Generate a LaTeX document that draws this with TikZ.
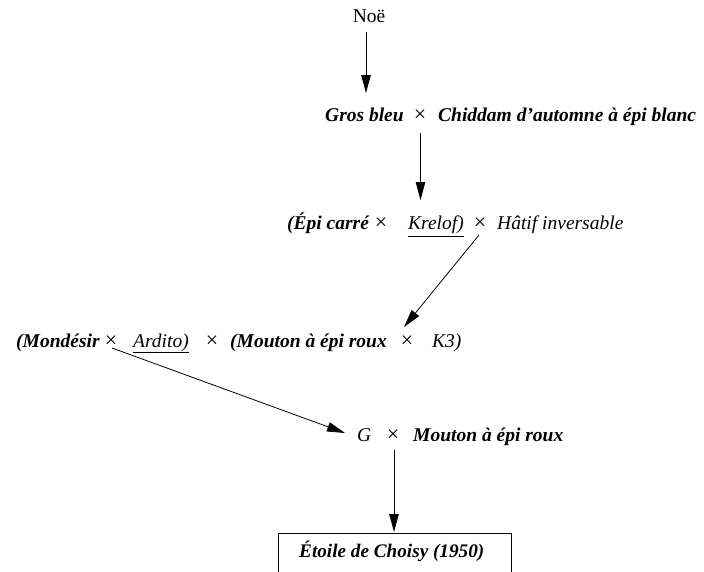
\documentclass[tikz,border=0pt]{standalone}
\usepackage{fontspec}
\setmainfont{Liberation Serif}
\usetikzlibrary{arrows.meta}
\begin{document}
\begin{tikzpicture}[x=1pt,y=-1pt,
  txt/.style={inner sep=0pt, anchor=base west, font=\fontsize{19.5}{22}\selectfont},
  bi/.style={txt, font=\fontsize{19.5}{22}\selectfont\bfseries\itshape},
  it/.style={txt, font=\fontsize{19.5}{22}\selectfont\itshape},
  cross/.style={inner sep=0pt, anchor=base, font=\fontsize{22}{24}\selectfont},
  link/.style={line width=0.8pt, -{Triangle[length=18pt,width=9.5pt]}},
  uline/.style={line width=0.9pt}]
\useasboundingbox (0,0) rectangle (704,571);

% top parent
\node[txt, anchor=base] (noe) at (369,22) {Noë};

% first cross
\node[bi] (gros) at (325,121) {Gros bleu};
\node[cross] (x1) at (420,121) {×};
\node[bi] (chid) at (438,121) {Chiddam d’automne à épi blanc};

% second cross
\node[bi] (epi) at (287,229) {(Épi carré};
\node[cross] (x2a) at (381,229) {×};
\node[it] (krel) at (408,229) {Krelof)};
\node[cross] (x2) at (480,229) {×};
\node[it] (hat) at (497,229) {Hâtif inversable};

% third cross
\node[bi] (mond) at (16,347) {(Mondésir};
\node[cross] (x3a) at (111,347) {×};
\node[it] (ard) at (133,347) {Ardito)};
\node[cross] (x3) at (212,347) {×};
\node[bi] (mout) at (230,347) {(Mouton à épi roux};
\node[cross] (x3b) at (407,347) {×};
\node[it] (k3) at (432,347) {K3)};

% fourth cross
\node[it] (g) at (357,441) {G};
\node[cross] (x4) at (393,441) {×};
\node[bi] (mout2) at (413,441) {Mouton à épi roux};

% resulting variety
\draw[line width=0.9pt] (278,533) rectangle (511,576);
\node[bi, font=\fontsize{19.2}{22}\selectfont\bfseries\itshape] (etoile) at (299,557) {Étoile de Choisy (1950)};

% underlines
\draw[uline] ([yshift=-7pt]krel.base west) -- ([yshift=-7pt]krel.base east);
\draw[uline] ([yshift=-5pt]ard.base west) -- ([yshift=-5pt]ard.base east);

% arrow end points
\coordinate (t1) at (366,93);
\coordinate (s1) at (366,32);
\coordinate (s2) at (420.5,133);
\coordinate (t2) at (420.5,200);
\coordinate (s3) at (479,235);
\coordinate (t3) at (404,327);
\coordinate (s4) at (112,348);
\coordinate (t4) at (345,433);
\coordinate (s5) at (394,450);
\coordinate (t5) at (394,532);

\draw[link] (s1) -- (t1);
\draw[link] (s2) -- (t2);
\draw[link] (s3) -- (t3);
\draw[link] (s4) -- (t4);
\draw[link] (s5) -- (t5);
\end{tikzpicture}
\end{document}
